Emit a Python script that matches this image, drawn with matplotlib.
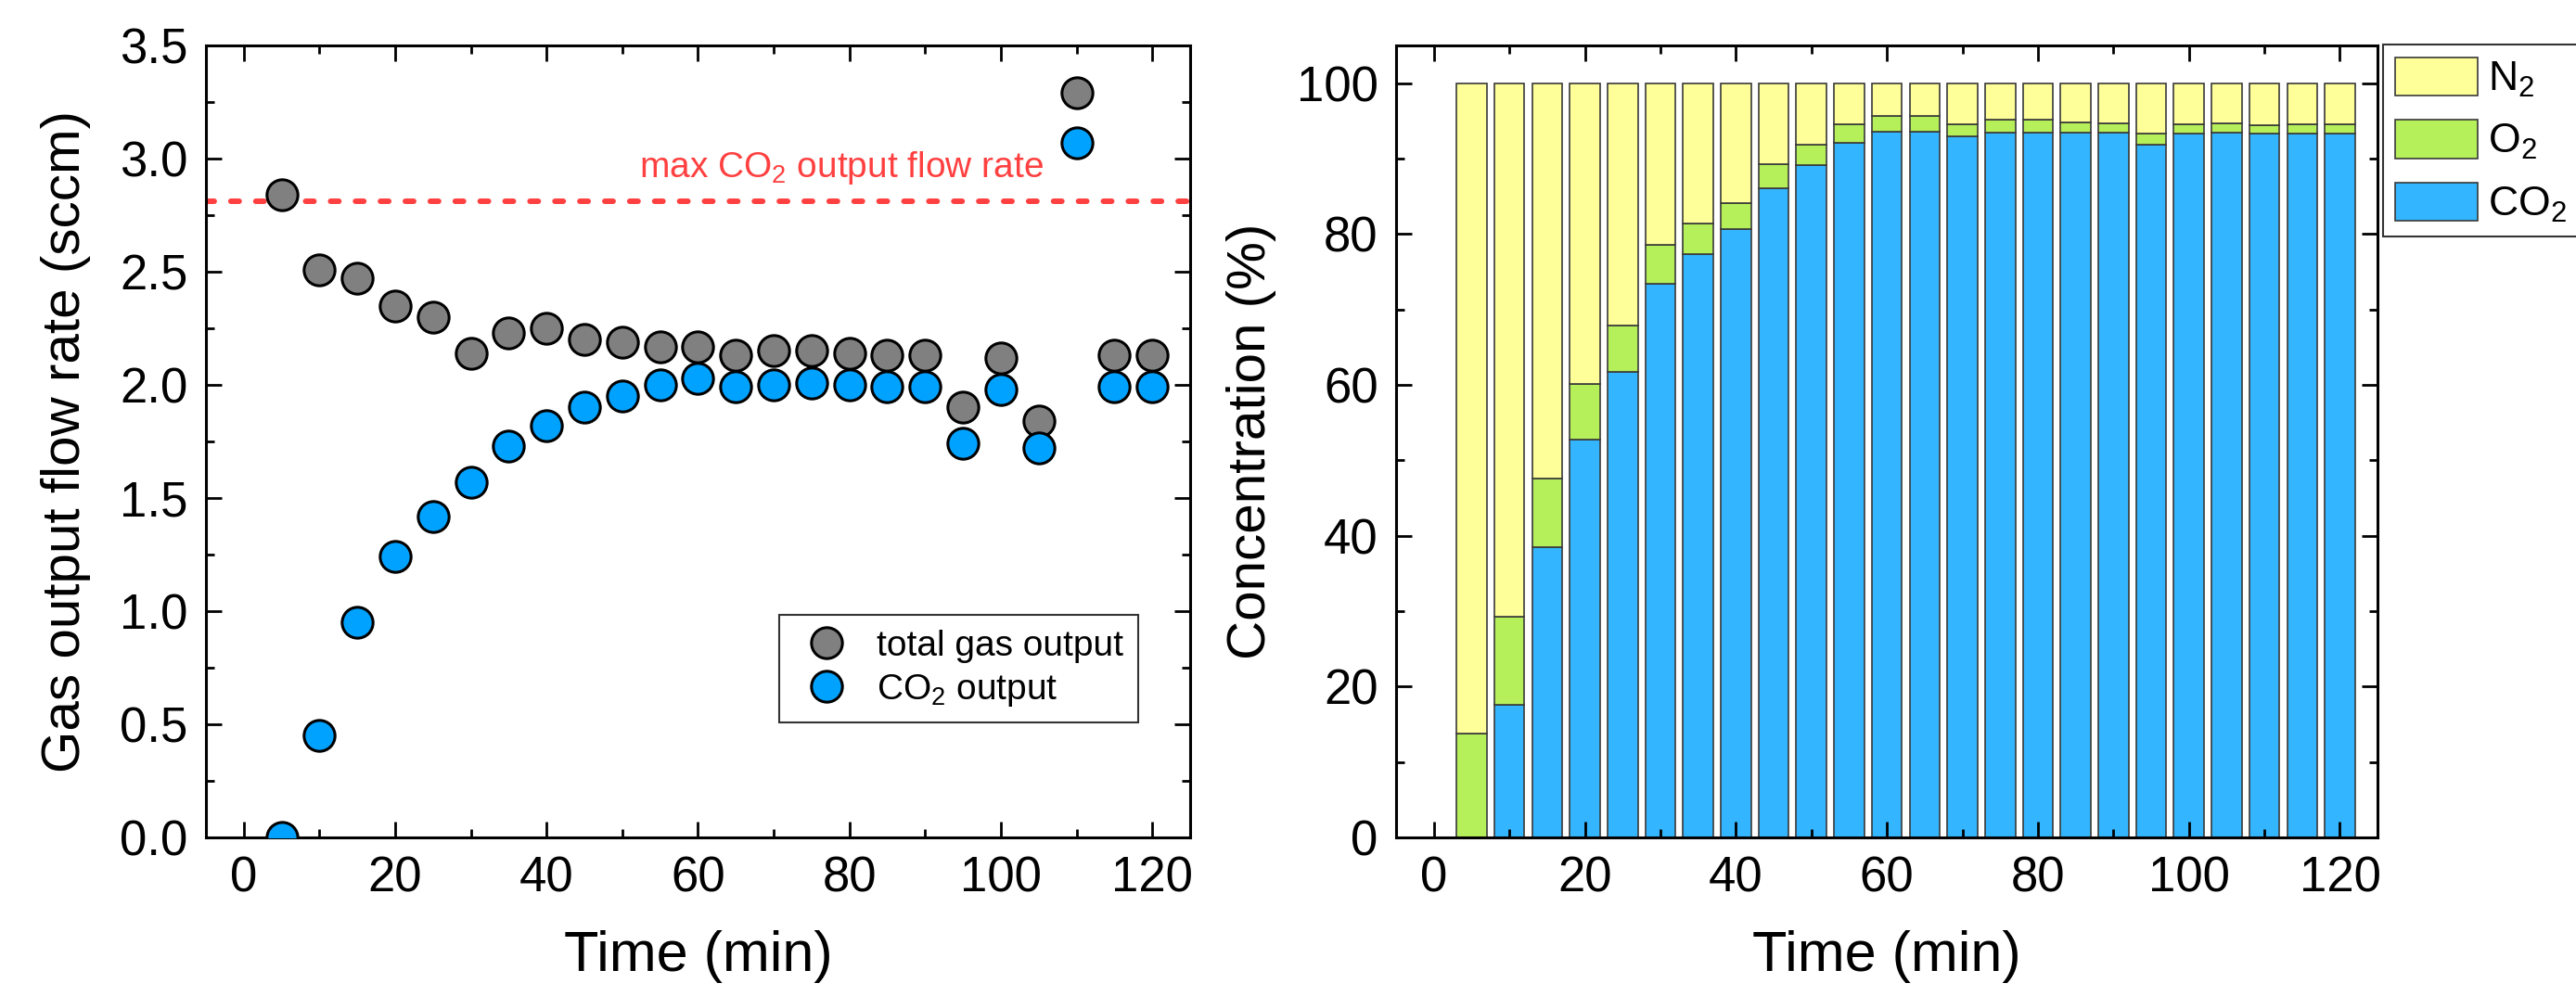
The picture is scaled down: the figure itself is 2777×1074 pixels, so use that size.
import numpy as np
import matplotlib
matplotlib.use("Agg")
import matplotlib.pyplot as plt
from matplotlib.ticker import MultipleLocator

plt.rcParams.update({
    "font.family": ["Liberation Sans", "DejaVu Sans"],
    "mathtext.default": "regular",
    "axes.linewidth": 2.2,
    "xtick.direction": "in",
    "ytick.direction": "in",
    "xtick.top": True,
    "ytick.right": True,
    "xtick.major.size": 12.5,
    "ytick.major.size": 12.5,
    "xtick.minor.size": 6.5,
    "ytick.minor.size": 6.5,
    "xtick.major.width": 2.0,
    "ytick.major.width": 2.0,
    "xtick.minor.width": 2.0,
    "ytick.minor.width": 2.0,
    "xtick.major.pad": 14,
    "ytick.major.pad": 14,
})

# time points (min)
time = [5, 10, 15, 20, 25, 30, 35, 40, 45, 50, 55, 60,
        65, 70, 75, 80, 85, 90, 95, 100, 105, 110, 115, 120]

# left panel: flow rates (sccm)
total_flow = [2.84, 2.51, 2.47, 2.35, 2.30, 2.14, 2.23, 2.25, 2.20, 2.19, 2.17, 2.17,
              2.13, 2.15, 2.15, 2.14, 2.13, 2.13, 1.90, 2.12, 1.84, 3.29, 2.13, 2.13]
co2_flow = [0.00, 0.45, 0.95, 1.24, 1.42, 1.57, 1.73, 1.82, 1.90, 1.95, 2.00, 2.03,
            1.99, 2.00, 2.01, 2.00, 1.99, 1.99, 1.74, 1.98, 1.72, 3.07, 1.99, 1.99]
max_co2_flow = 2.81

# right panel: concentrations (%)
co2_conc = [0.0, 17.6, 38.5, 52.7, 61.7, 73.4, 77.3, 80.7, 86.1, 89.1, 92.1, 93.6,
            93.6, 93.0, 93.4, 93.5, 93.4, 93.5, 91.9, 93.3, 93.4, 93.3, 93.3, 93.3]
o2_conc = [13.8, 11.7, 9.1, 7.4, 6.2, 5.2, 4.1, 3.4, 3.1, 2.7, 2.5, 2.0,
           2.0, 1.6, 1.7, 1.6, 1.4, 1.2, 1.4, 1.2, 1.3, 1.15, 1.3, 1.2]
n2_conc = [100 - c - o for c, o in zip(co2_conc, o2_conc)]

fig = plt.figure(figsize=(27.77, 10.74), dpi=100)

# ---- left panel ----
ax1 = fig.add_axes([0.0799, 0.1592, 0.3821, 0.7952])
ax1.axhline(max_co2_flow, color="#FF4040", lw=4.3, ls=(0, (1.5, 3.0)),
            dash_capstyle="round", zorder=2)
ax1.plot(time, total_flow, ls="none", marker="o", ms=24, mfc="#808080",
         mec="black", mew=2.2, label="total gas output", zorder=5)
ax1.plot(time, co2_flow, ls="none", marker="o", ms=24, mfc="#00A2FF",
         mec="black", mew=2.2, label="CO$_2$ output", zorder=6)
ax1.text(105.7, 2.92, "max CO$_2$ output flow rate", color="#FF4040",
         fontsize=28, ha="right", va="baseline")

ax1.set_xlim(-5, 125)
ax1.set_ylim(0, 3.5)
ax1.xaxis.set_major_locator(MultipleLocator(20))
ax1.xaxis.set_minor_locator(MultipleLocator(10))
ax1.yaxis.set_major_locator(MultipleLocator(0.5))
ax1.yaxis.set_minor_locator(MultipleLocator(0.25))
ax1.yaxis.set_major_formatter(matplotlib.ticker.FormatStrFormatter("%.1f"))
ax1.tick_params(labelsize=38)
ax1.set_xlabel("Time (min)", fontsize=44, labelpad=22)
ax1.set_ylabel("Gas output flow rate (sccm)", fontsize=42, labelpad=22)
leg1 = ax1.legend(loc="lower right", bbox_to_anchor=(0.947, 0.145), fontsize=28,
                  frameon=True, fancybox=False, edgecolor="black",
                  handlelength=1.8, handletextpad=0.5, labelspacing=0.25,
                  borderpad=0.4, borderaxespad=0)
leg1.get_frame().set_linewidth(1.5)

# ---- right panel ----
ax2 = fig.add_axes([0.5420, 0.1592, 0.3810, 0.7952])
bottom_o2 = co2_conc
bottom_n2 = [c + o for c, o in zip(co2_conc, o2_conc)]
b_co2 = ax2.bar(time, co2_conc, width=4, color="#33B6FF", edgecolor="#3A3A3A",
                lw=1.2, label="CO$_2$")
b_o2 = ax2.bar(time, o2_conc, width=4, bottom=bottom_o2, color="#B5EF5A",
               edgecolor="#3A3A3A", lw=1.2, label="O$_2$")
b_n2 = ax2.bar(time, n2_conc, width=4, bottom=bottom_n2, color="#FFFF99",
               edgecolor="#3A3A3A", lw=1.2, label="N$_2$")

ax2.set_xlim(-5, 125)
ax2.set_ylim(0, 105)
ax2.xaxis.set_major_locator(MultipleLocator(20))
ax2.xaxis.set_minor_locator(MultipleLocator(10))
ax2.yaxis.set_major_locator(MultipleLocator(20))
ax2.yaxis.set_minor_locator(MultipleLocator(10))
ax2.tick_params(labelsize=38)
ax2.set_xlabel("Time (min)", fontsize=44, labelpad=22)
ax2.set_ylabel("Concentration (%)", fontsize=42, labelpad=16)
leg2 = fig.legend([b_n2, b_o2, b_co2], ["N$_2$", "O$_2$", "CO$_2$"],
                  loc="upper left", bbox_to_anchor=(0.925, 0.955), fontsize=32,
                  frameon=True, fancybox=False, edgecolor="black",
                  handlelength=2.0, handleheight=1.07, handletextpad=0.25,
                  labelspacing=0.5, borderpad=0.3, borderaxespad=0)
leg2.get_frame().set_linewidth(1.5)

fig.savefig("out.png", dpi=100)
